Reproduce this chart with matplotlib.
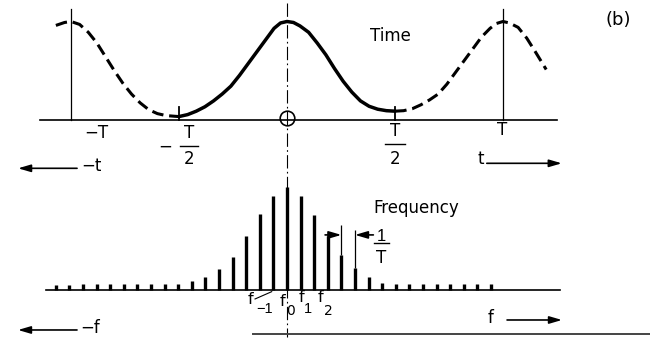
import matplotlib.pyplot as plt
from matplotlib.lines import Line2D

plt.rcParams['font.family'] = ['DejaVu Sans']

# periodic pulse, t in units of the period T, amplitude relative to the peak
t_left = [-1.07, -1.03, -1.0, -0.96, -0.92, -0.88, -0.84, -0.80, -0.76,
          -0.72, -0.68, -0.64, -0.60, -0.56, -0.52, -0.50]
a_left = [0.96, 0.99, 1.0, 0.97, 0.89, 0.78, 0.64, 0.50, 0.37,
          0.26, 0.17, 0.10, 0.06, 0.04, 0.033, 0.03]

t_main = [-0.50, -0.46, -0.42, -0.38, -0.34, -0.30, -0.26, -0.22, -0.18,
          -0.14, -0.10, -0.06, -0.03, 0.0, 0.03, 0.06, 0.10, 0.14, 0.18,
          0.22, 0.26, 0.30, 0.34, 0.38, 0.42, 0.46, 0.50]
a_main = [0.03, 0.05, 0.085, 0.13, 0.19, 0.26, 0.34, 0.45, 0.57,
          0.69, 0.81, 0.93, 0.985, 1.0, 0.99, 0.955, 0.89, 0.78, 0.66,
          0.52, 0.39, 0.28, 0.19, 0.135, 0.105, 0.09, 0.085]

t_right = [0.50, 0.54, 0.58, 0.62, 0.66, 0.70, 0.74, 0.78, 0.82, 0.86,
           0.90, 0.94, 0.97, 1.0, 1.03, 1.07, 1.11, 1.15, 1.20]
a_right = [0.085, 0.09, 0.11, 0.15, 0.20, 0.26, 0.36, 0.48, 0.60, 0.72,
           0.84, 0.93, 0.98, 1.0, 0.985, 0.94, 0.83, 0.69, 0.51]

# line spectrum: harmonic number k (spacing 1/T) and relative amplitude
harmonics = list(range(-17, 16))
amps = [0.045, 0.045, 0.05, 0.05, 0.05, 0.05, 0.05, 0.05, 0.05, 0.05,
        0.08, 0.12, 0.20, 0.315, 0.52, 0.735, 0.91, 1.0, 0.905, 0.725,
        0.515, 0.335, 0.213, 0.126, 0.065,
        0.053, 0.05, 0.05, 0.05, 0.055, 0.055, 0.05, 0.05]

W, H = 650, 338
fig = plt.figure(figsize=(W / 100, H / 100), dpi=100)

# both panels share the full canvas; limits place the origins where wanted
ax_t = fig.add_axes([0, 0, 1, 1])
x0, T_px, base_t, peak_t = 287, 216, 119.5, 98
ax_t.set_xlim(-x0 / T_px, (W - x0) / T_px)
ax_t.set_ylim((base_t - H) / peak_t, base_t / peak_t)

ax_f = fig.add_axes([0, 0, 1, 1])
df_px, base_f, peak_f = 13.6, 289.5, 103
ax_f.set_xlim(-x0 / df_px, (W - x0) / df_px)
ax_f.set_ylim((base_f - H) / peak_f, base_f / peak_f)

for ax in (ax_t, ax_f):
    ax.set_axis_off()
    ax.patch.set_alpha(0)

fs = 12
plain_one = ['Liberation Sans', 'DejaVu Sans']   # "1" without a foot
arrow = dict(arrowstyle='-|>,head_length=0.75,head_width=0.22',
             mutation_scale=10, lw=1.2, color='k', shrinkA=0, shrinkB=0)

# ---- time domain ----
ax_t.plot([-1.144, 1.249], [0, 0], color='k', lw=1.2)
ax_t.plot([0, 0], [1.19, -2.22], color='k', lw=0.8,
          linestyle=(0, (12, 3, 1.5, 3)))
ax_t.plot(t_left, a_left, color='k', lw=2.2, linestyle=(0, (3.8, 1.9)))
ax_t.plot(t_main, a_main, color='k', lw=2.5, solid_capstyle='round',
          solid_joinstyle='round')
ax_t.plot(t_right, a_right, color='k', lw=2.2, linestyle=(0, (3.8, 1.9)))
for tp in (-1, 1):
    ax_t.plot([tp, tp], [0, 1.13], color='k', lw=0.9)
for tp in (-0.5, 0.5):
    ax_t.plot([tp, tp], [0, 0.13], color='k', lw=1.3)
ax_t.plot(0, 0.012, 'o', ms=10.5, mfc='none', mec='k', mew=1.2)


def frac(ax, x, y_num, y_bar, y_den, half, num, den, **kw):
    ax.text(x, y_num, num, ha='center', va='center', fontsize=fs, **kw)
    ax.plot([x - half, x + half], [y_bar, y_bar], color='k', lw=1.0)
    ax.text(x, y_den, den, ha='center', va='center', fontsize=fs)


ax_t.text(-0.884, -0.138, '−T', ha='center', va='center', fontsize=fs)
ax_t.text(-0.565, -0.28, '−', ha='center', va='center', fontsize=fs)
frac(ax_t, -0.455, -0.138, -0.267, -0.408, 0.042, 'T', '2')
frac(ax_t, 0.502, -0.117, -0.25, -0.398, 0.046, 'T', '2')
ax_t.text(0.995, -0.107, 'T', ha='center', va='center', fontsize=fs)
ax_t.text(0.384, 0.852, 'Time', ha='left', va='center', fontsize=fs)
ax_t.text(1.532, 1.015, '(b)', ha='center', va='center', fontsize=13)

ax_t.text(0.896, -0.40, 't', ha='center', va='center', fontsize=fs)
ax_t.annotate('', xy=(1.272, -0.447), xytext=(0.925, -0.447),
              arrowprops=arrow)
ax_t.text(-0.907, -0.474, '−t', ha='center', va='center', fontsize=fs)
ax_t.annotate('', xy=(-1.245, -0.498), xytext=(-0.972, -0.498),
              arrowprops=arrow)

# ---- frequency domain ----
ax_f.plot([-17.72, 20.07], [0, 0], color='k', lw=1.2)
ax_f.vlines(harmonics, 0, amps, color='k', lw=2.4, capstyle='butt')

# spacing marker between two neighbouring lines
k4, k5 = harmonics.index(4), harmonics.index(5)
ax_f.vlines([4, 5], [amps[k4], amps[k5]], [0.626, 0.578], color='k', lw=0.9)
ax_f.annotate('', xy=(4, 0.53), xytext=(2.8, 0.53), arrowprops=arrow)
ax_f.annotate('', xy=(5, 0.53), xytext=(6.35, 0.53), arrowprops=arrow)
frac(ax_f, 6.95, 0.519, 0.449, 0.306, 0.55, '1', 'T', family=plain_one)

ax_f.text(6.32, 0.796, 'Frequency', ha='left', va='center', fontsize=fs)

ax_f.text(-2.72, -0.10, 'f', ha='center', va='center', fontsize=11.5)
ax_f.text(-1.62, -0.194, '−1', ha='center', va='center', fontsize=10.5,
          family=plain_one)
ax_f.plot([-2.35, -1.125], [-0.092, -0.021], color='k', lw=0.8)
ax_f.text(-0.3, -0.115, 'f', ha='center', va='center', fontsize=11.5)
ax_f.text(0.25, -0.209, '0', ha='center', va='center', fontsize=10)
ax_f.text(1.03, -0.078, 'f', ha='center', va='center', fontsize=11.5)
ax_f.text(1.55, -0.189, '1', ha='center', va='center', fontsize=10.5,
          family=plain_one)
ax_f.text(2.46, -0.078, 'f', ha='center', va='center', fontsize=11.5)
ax_f.text(3.05, -0.209, '2', ha='center', va='center', fontsize=10)

ax_f.text(14.96, -0.272, 'f', ha='center', va='center', fontsize=fs)
ax_f.annotate('', xy=(20.22, -0.296), xytext=(16.18, -0.296),
              arrowprops=arrow)
ax_f.text(-14.49, -0.369, '−f', ha='center', va='center', fontsize=fs)
ax_f.annotate('', xy=(-19.78, -0.393), xytext=(-15.44, -0.393),
              arrowprops=arrow)

# rule along the lower edge
fig.add_artist(Line2D([253 / W, 1], [1 - 334 / H, 1 - 334 / H],
                      color='#444444', lw=1.4))

fig.savefig('out.png', dpi=100)
